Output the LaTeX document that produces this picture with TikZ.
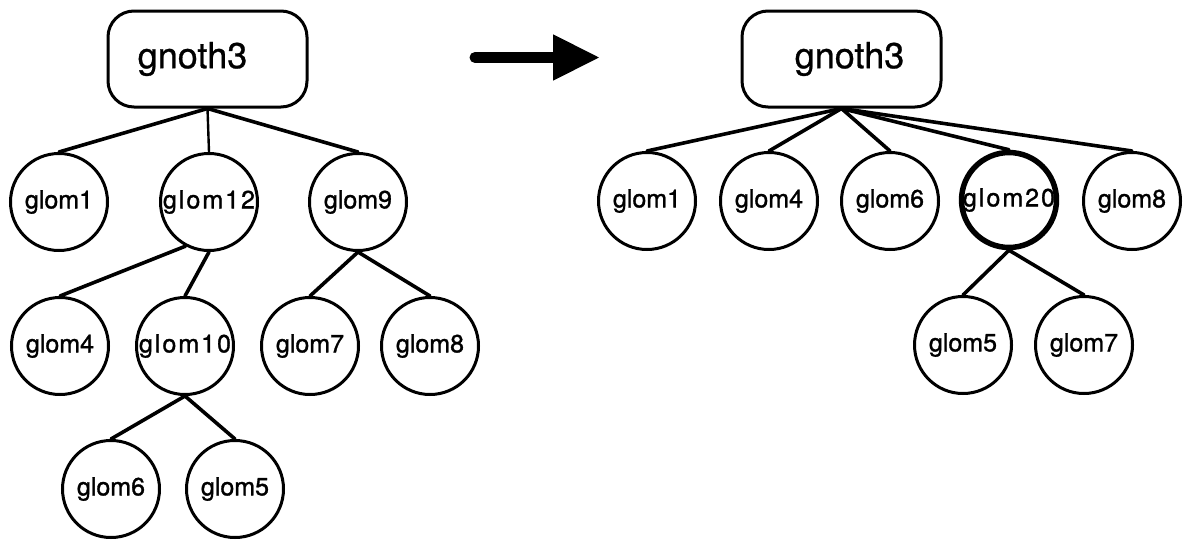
\documentclass[tikz,border=0pt]{standalone}
\usepackage{fontspec}
\setmainfont{TeX Gyre Heros}
\newfontfamily\glomfont{TeX Gyre Heros}[FakeBold=1.2]
\newfontfamily\rootfont{TeX Gyre Heros}[FakeBold=0.8]
\usetikzlibrary{arrows.meta}
\begin{document}
\begin{tikzpicture}[x=1pt,y=-1pt,
  rootbox/.style={draw,line width=3pt,rounded corners=26pt,minimum width=199pt,minimum height=96pt,inner sep=0pt,font=\rootfont\fontsize{36}{40}\selectfont},
  glom/.style={draw,circle,line width=3pt,minimum size=97pt,inner sep=0pt,font=\glomfont\fontsize{25}{30}\selectfont},
  wide/.style={font=\glomfont\fontsize{25}{30}\selectfont\addfontfeature{LetterSpace=8}},
  marked/.style={line width=5.5pt,minimum size=86pt},
  edge/.style={line width=3.6pt,line cap=round},
  thinedge/.style={line width=2.4pt}]
\useasboundingbox (0,0) rectangle (1193,541);
% left tree
\node[rootbox] (rootL) at (207.5,59) {\hspace*{-30pt}gnoth3};
\node[glom] (g1L) at (59,202) {glom1};
\node[glom,wide] (g12) at (209,202) {glom12};
\node[glom] (g9L) at (358,202) {glom9};
\node[glom] (g4L) at (60,346) {glom4};
\node[glom,wide] (g10) at (185,346) {glom10};
\node[glom] (g7L) at (310,346) {glom7};
\node[glom] (g8L) at (430,346) {glom8};
\node[glom] (g6L) at (111,489) {glom6};
\node[glom] (g5L) at (235,489) {glom5};
\draw[edge] (rootL.south) -- (g1L.north);
\draw[thinedge] (rootL.south) -- (g12.north);
\draw[edge] (rootL.south) -- (g9L.north);
\draw[edge] (g12.242) -- (g4L.north);
\draw[edge] (g12.south) -- (g10.north);
\draw[edge] (g9L.south) -- (g7L.north);
\draw[edge] (g9L.south) -- (g8L.north);
\draw[edge] (g10.south) -- (g6L.north);
\draw[edge] (g10.south) -- (g5L.north);
% arrow
\coordinate (arrS) at (475,57.5);
\coordinate (arrE) at (600,57.5);
\draw[line width=11pt,line cap=round,-{Triangle[length=47pt,width=43pt]}] (arrS) -- (arrE);
% right tree
\node[rootbox] (rootR) at (841.5,59) {\hspace*{16pt}gnoth3};
\node[glom] (g1R) at (647,201) {glom1};
\node[glom] (g4R) at (769,201) {glom4};
\node[glom] (g6R) at (890,201) {glom6};
\node[glom,wide,marked] (g20) at (1009,200) {glom20};
\node[glom] (g8R) at (1132,201) {glom8};
\node[glom] (g5R) at (963,345) {glom5};
\node[glom] (g7R) at (1084,345) {glom7};
\foreach \c in {g1R,g4R,g6R,g20,g8R} \draw[edge] (rootR.south) -- (\c.north);
\draw[edge] (g20.south) -- (g5R.north);
\draw[edge] (g20.south) -- (g7R.north);
\end{tikzpicture}
\end{document}
